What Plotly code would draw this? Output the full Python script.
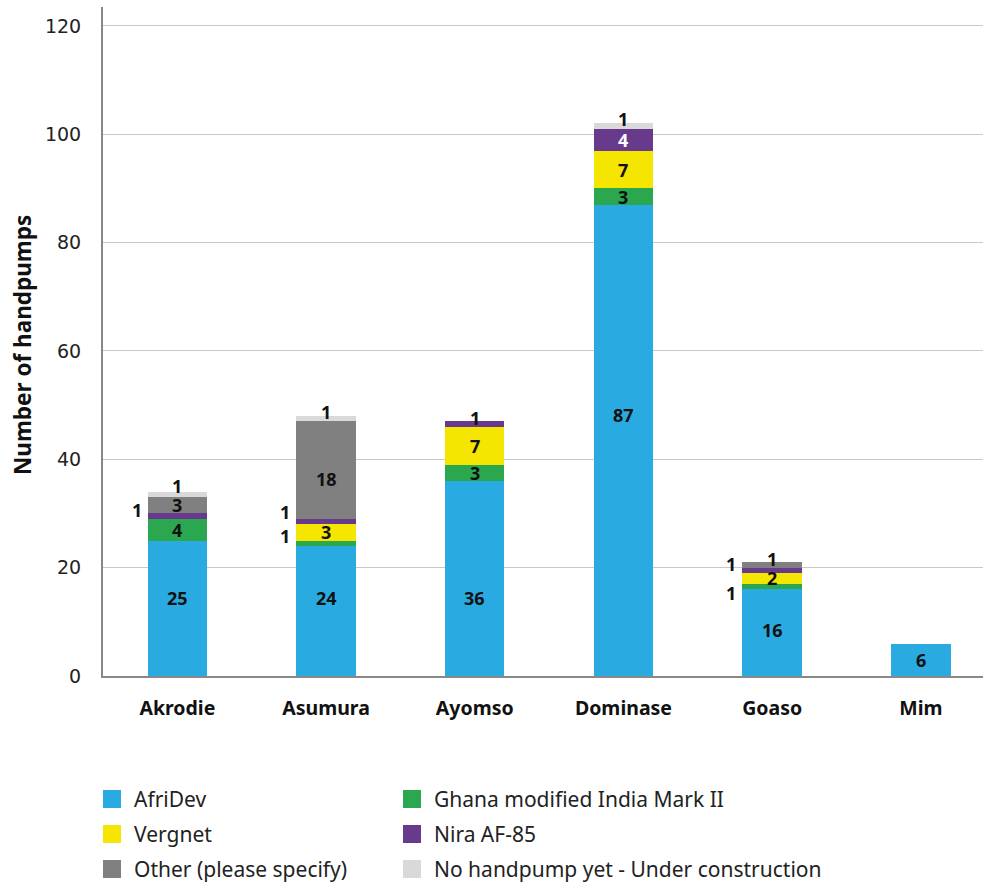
import plotly.graph_objects as go

# Handpump types per town (stacked bottom to top)
towns = ["Akrodie", "Asumura", "Ayomso", "Dominase", "Goaso", "Mim"]
afridev = [25, 24, 36, 87, 16, 6]
ghana_mark2 = [4, 1, 3, 3, 1, 0]
vergnet = [0, 3, 7, 7, 2, 0]
nira_af85 = [1, 1, 1, 4, 1, 0]
other = [3, 18, 0, 0, 1, 0]
under_construction = [1, 1, 0, 1, 0, 0]

series_names = [
    "AfriDev",
    "Ghana modified India Mark II",
    "Vergnet",
    "Nira AF-85",
    "Other (please specify)",
    "No handpump yet - Under construction",
]
series_values = [afridev, ghana_mark2, vergnet, nira_af85, other, under_construction]
colors = ["#29ABE2", "#2BA84F", "#F4E600", "#673A8C", "#808080", "#D9D9D9"]

y_ticks = [0, 20, 40, 60, 80, 100, 120]

TEXT_FONT = "Noto Sans"
BAR_WIDTH = 0.40

# Placement tweaks for value labels: (series index, town index) -> (side, yshift px)
label_nudge = {
    (0, 0): ("center", 10), (0, 1): ("center", 13), (0, 2): ("center", -20),
    (0, 3): ("center", 25), (0, 4): ("center", 3),
    (3, 0): ("left", 6), (5, 0): ("center", 9),
    (1, 1): ("left", 7), (3, 1): ("left", 10), (4, 1): ("center", -9), (5, 1): ("center", 7),
    (3, 2): ("center", 6),
    (5, 3): ("center", 7),
    (1, 4): ("left", -6), (3, 4): ("left", 6), (4, 4): ("center", 6),
}
white_labels = {(3, 3)}

fig = go.Figure()
for name, vals, col in zip(series_names, series_values, colors):
    fig.add_trace(go.Bar(
        x=towns, y=vals, name=name, marker_color=col,
        marker_line_width=0, width=BAR_WIDTH, showlegend=False,
        hoverinfo="name+y",
    ))

annotations = []
base = [0] * len(towns)
for si, vals in enumerate(series_values):
    for ti, v in enumerate(vals):
        if v > 0:
            side, dy = label_nudge.get((si, ti), ("center", 0))
            color = "white" if (si, ti) in white_labels else "#111"
            ann = dict(
                x=ti, y=base[ti] + v / 2, xref="x", yref="y",
                text=str(v), showarrow=False, yshift=dy,
                font=dict(family=TEXT_FONT, size=18, color=color, weight="bold"),
                yanchor="middle",
            )
            if side == "left":
                ann.update(x=ti - BAR_WIDTH / 2, xanchor="right", xshift=-4)
            annotations.append(ann)
        base[ti] += v

# Plot geometry (px) used to place the legend and axis title in paper units
W, H = 983, 884
ML, MR, MT, MB = 103, 0, 7, 208
PW, PH = W - ML - MR, H - MT - MB


def px_x(px):
    return (px - ML) / PW


def px_y(py):
    return (H - MB - py) / PH


# Two-column legend: swatch + label
legend_cols = [103, 403]
legend_rows = [799, 834, 869]
shapes = []
for i, (name, col) in enumerate(zip(series_names, colors)):
    cx = legend_cols[i % 2]
    cy = legend_rows[i // 2]
    shapes.append(dict(
        type="rect", xref="paper", yref="paper",
        x0=px_x(cx), x1=px_x(cx + 18), y0=px_y(cy + 9), y1=px_y(cy - 9),
        fillcolor=col, line_width=0,
    ))
    annotations.append(dict(
        x=px_x(cx + 29), y=px_y(cy), xref="paper", yref="paper",
        text=name, showarrow=False, xanchor="left", yanchor="middle",
        font=dict(family=TEXT_FONT, size=21, color="#222"),
    ))

annotations.append(dict(
    x=0, y=px_y(345), xref="paper", yref="paper", xshift=-81,
    text="Number of handpumps", textangle=-90, showarrow=False,
    xanchor="center", yanchor="middle",
    font=dict(family=TEXT_FONT, size=22.5, color="#111", weight="bold"),
))

fig.update_layout(
    barmode="stack",
    width=W, height=H,
    margin=dict(l=ML, r=MR, t=MT, b=MB, pad=0),
    plot_bgcolor="white", paper_bgcolor="white",
    annotations=annotations, shapes=shapes,
    showlegend=False,
)
fig.update_xaxes(
    range=[-0.5, -0.5 + PW / 148.7],
    showline=True, linecolor="#888", linewidth=2,
    showgrid=False, ticks="",
    tickfont=dict(family=TEXT_FONT, size=19.5, color="#111", weight="bold"),
    ticklabelstandoff=14,
)
fig.update_yaxes(
    range=[0, 123.5], tickvals=y_ticks,
    showline=True, linecolor="#888", linewidth=2,
    showgrid=True, gridcolor="#c8c8c8", gridwidth=1,
    zeroline=False, ticks="",
    tickfont=dict(family="DejaVu Sans", size=19, color="#222"),
    ticklabelstandoff=16,
)

fig.write_html("out.html")
